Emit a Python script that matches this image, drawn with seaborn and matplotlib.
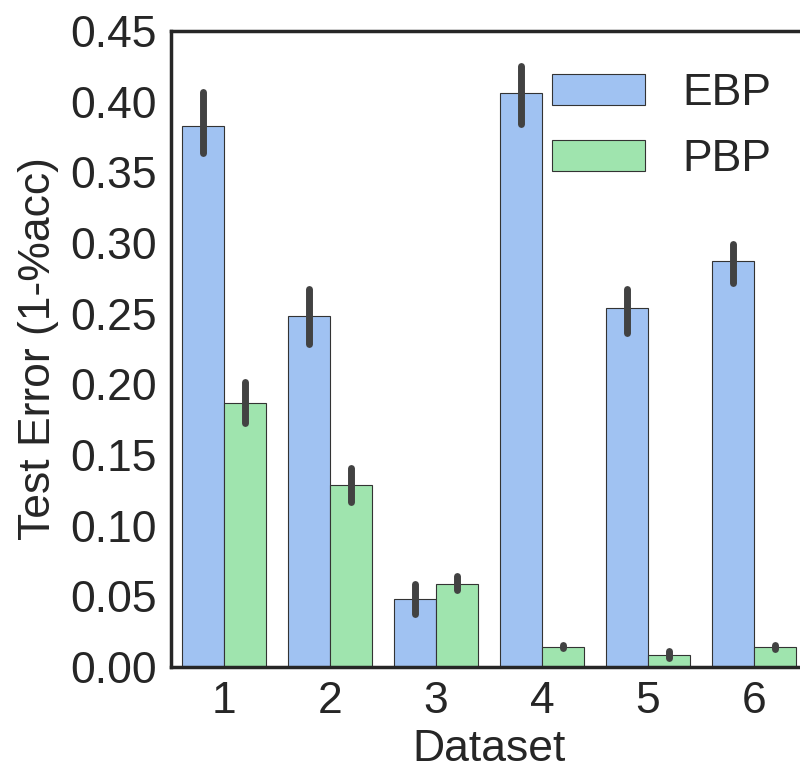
import seaborn as sns
import matplotlib.pyplot as plt
import pandas as pd

# values
datasets = ["1", "2", "3", "4", "5", "6"]
methods = ["EBP", "PBP"]
ebp_mean = [0.383, 0.248, 0.048, 0.406, 0.254, 0.287]
ebp_lo = [0.3635, 0.2285, 0.0375, 0.3845, 0.236, 0.2715]
ebp_hi = [0.4065, 0.2675, 0.0585, 0.4255, 0.2675, 0.2995]
pbp_mean = [0.187, 0.129, 0.059, 0.0142, 0.0085, 0.0142]
pbp_lo = [0.1725, 0.1165, 0.0545, 0.0135, 0.006, 0.0125]
pbp_hi = [0.2015, 0.1405, 0.0645, 0.0155, 0.011, 0.0155]
colors = ["#a0c2f2", "#9fe4ae"]

df = pd.DataFrame({
    "Dataset": datasets * 2,
    "Method": [methods[0]] * 6 + [methods[1]] * 6,
    "err": ebp_mean + pbp_mean,
})
ci = {"EBP": (ebp_lo, ebp_hi), "PBP": (pbp_lo, pbp_hi)}

sns.set_style("white")
plt.rcParams["font.family"] = ["Liberation Sans", "DejaVu Sans"]
plt.rcParams["axes.edgecolor"] = "#262626"

fig = plt.figure(figsize=(8, 7.7), dpi=100)
ax = fig.add_axes([0.21375, 0.1338, 0.795, 0.826])

sns.barplot(data=df, x="Dataset", y="err", hue="Method", palette=colors,
            errorbar=None, saturation=1, edgecolor=".2", linewidth=0.8, ax=ax)

# confidence intervals drawn over each bar
for m, cont in zip(methods, ax.containers):
    lo, hi = ci[m]
    for bar, a, b in zip(cont, lo, hi):
        x = bar.get_x() + bar.get_width() / 2
        ax.plot([x, x], [a, b], color=".26", lw=5, solid_capstyle="round", zorder=3)

for s in ax.spines.values():
    s.set_linewidth(2.5)

ax.set_xlim(-0.5, len(datasets) - 0.5)
ax.set_ylim(0, 0.45)
ax.set_yticks([i * 0.05 for i in range(10)])
ax.set_yticklabels([f"{i * 0.05:.2f}" for i in range(10)])
ax.tick_params(axis="both", labelsize=32, length=0, pad=10)
ax.set_xlabel("Dataset", fontsize=32, labelpad=5)
ax.set_ylabel("Test Error (1-%acc)", fontsize=32, labelpad=8)

handles, labels = ax.get_legend_handles_labels()
ax.legend(handles, labels, loc="upper left", bbox_to_anchor=(0.599, 0.934),
          frameon=False, fontsize=32, handlelength=2.1, handleheight=0.7,
          handletextpad=0.83, labelspacing=0.56, borderpad=0, borderaxespad=0)

fig.savefig("out.png", dpi=100)
